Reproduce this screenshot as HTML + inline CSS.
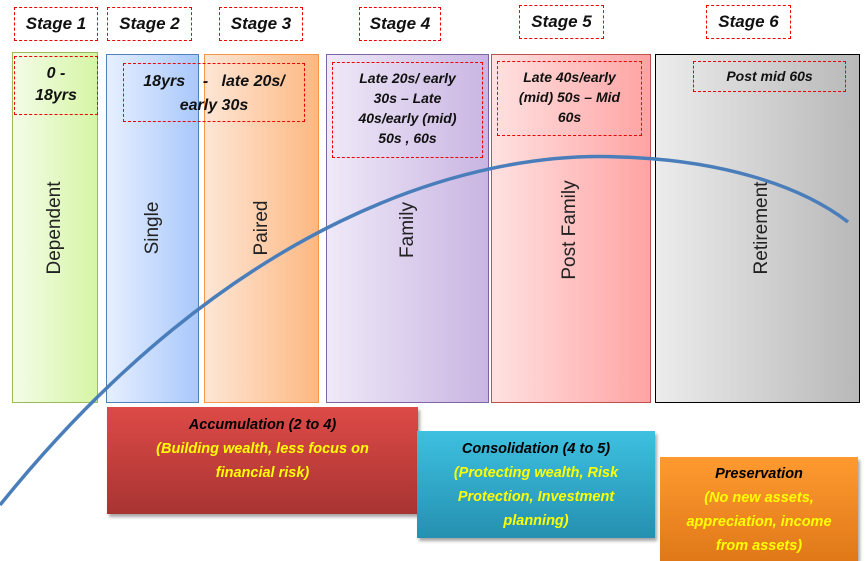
<!DOCTYPE html>
<html><head><meta charset="utf-8"><style>
body{margin:0;width:867px;height:559px;background:#fff;position:relative;overflow:hidden;font-family:"Liberation Sans",sans-serif}
.a{position:absolute;box-sizing:border-box}
.d{border:1px dashed #e00;font-style:italic;font-weight:bold;color:#111;text-align:center}
.st{font-size:17px;line-height:31px}
.col{border:1px solid}
.v{position:absolute;transform:translate(-50%,-50%) rotate(-90deg);white-space:nowrap;font-size:19px;color:#222}
.in{font-size:14px;line-height:20px}
.bb{text-align:center;font-style:italic;font-weight:bold;font-size:14.5px;line-height:24px;box-shadow:2px 3px 3px rgba(0,0,0,.35)}
.y{color:#ffff00}
</style></head><body>
<div class="a col" style="left:12px;top:52px;width:86px;height:351px;border-color:#9bbb59;background:linear-gradient(90deg,#f4fce8,#d5f5a5)"></div>
<div class="a col" style="left:106px;top:54px;width:93px;height:349px;border-color:#4f81bd;background:linear-gradient(90deg,#e6efff,#a9c8fb)"></div>
<div class="a col" style="left:204px;top:54px;width:115px;height:349px;border-color:#f79646;background:linear-gradient(90deg,#fde6d6,#fdb882)"></div>
<div class="a col" style="left:326px;top:54px;width:163px;height:349px;border-color:#8064a2;background:linear-gradient(90deg,#efe9f8,#c9b5e2)"></div>
<div class="a col" style="left:491px;top:54px;width:160px;height:349px;border-color:#c0504d;background:linear-gradient(90deg,#ffe1e1,#ffa3a3)"></div>
<div class="a col" style="left:655px;top:54px;width:205px;height:349px;border-color:#000;background:linear-gradient(90deg,#ececec,#b8b8b8)"></div>

<div class="a d st" style="left:14px;top:7px;width:84px;height:34px">Stage 1</div>
<div class="a d st" style="left:107px;top:7px;width:85px;height:34px">Stage 2</div>
<div class="a d st" style="left:219px;top:7px;width:84px;height:34px">Stage 3</div>
<div class="a d st" style="left:359px;top:7px;width:82px;height:34px">Stage 4</div>
<div class="a d st" style="left:519px;top:5px;width:85px;height:34px">Stage 5</div>
<div class="a d st" style="left:706px;top:5px;width:85px;height:34px">Stage 6</div>

<div class="a d" style="left:14px;top:56px;width:84px;height:59px;font-size:16px;line-height:22px;padding-top:6px">0 -<br>18yrs</div>
<div class="a d" style="left:123px;top:63px;width:182px;height:59px;font-size:16px;line-height:24px;padding-top:6px">18yrs &nbsp;&nbsp; - &nbsp; late 20s/<br>early 30s</div>
<div class="a d in" style="left:332px;top:62px;width:151px;height:96px;padding-top:5px">Late 20s/ early<br>30s – Late<br>40s/early (mid)<br>50s , 60s</div>
<div class="a d in" style="left:497px;top:61px;width:145px;height:75px;padding-top:5px">Late 40s/early<br>(mid) 50s – Mid<br>60s</div>
<div class="a d in" style="left:693px;top:61px;width:153px;height:31px;padding-top:4px">Post mid 60s</div>

<div class="v" style="left:55px;top:228px">Dependent</div>
<div class="v" style="left:153px;top:228px">Single</div>
<div class="v" style="left:262px;top:228px">Paired</div>
<div class="v" style="left:408px;top:230px">Family</div>
<div class="v" style="left:570px;top:230px">Post Family</div>
<div class="v" style="left:762px;top:228px">Retirement</div>

<svg class="a" style="left:0;top:0" width="867" height="559"><path d="M0,505 C230,220 470,150 620,157 C720,160 800,185 848,222" fill="none" stroke="#4a7ebb" stroke-width="3.5"/></svg>

<div class="a bb" style="left:107px;top:407px;width:311px;height:107px;background:linear-gradient(#dd4a47,#a83432);padding-top:6px">Accumulation (2 to 4)<br><span class="y">(Building wealth, less focus on<br>financial risk)</span></div>
<div class="a bb" style="left:417px;top:431px;width:238px;height:107px;background:linear-gradient(#3ec0e0,#2590b0);padding-top:6px">Consolidation (4 to 5)<br><span class="y">(Protecting wealth, Risk<br>Protection, Investment<br>planning)</span></div>
<div class="a bb" style="left:660px;top:457px;width:198px;height:104px;background:linear-gradient(#ff9a30,#e07818);padding-top:5px">Preservation<br><span class="y">(No new assets,<br>appreciation, income<br>from assets)</span></div>
</body></html>
